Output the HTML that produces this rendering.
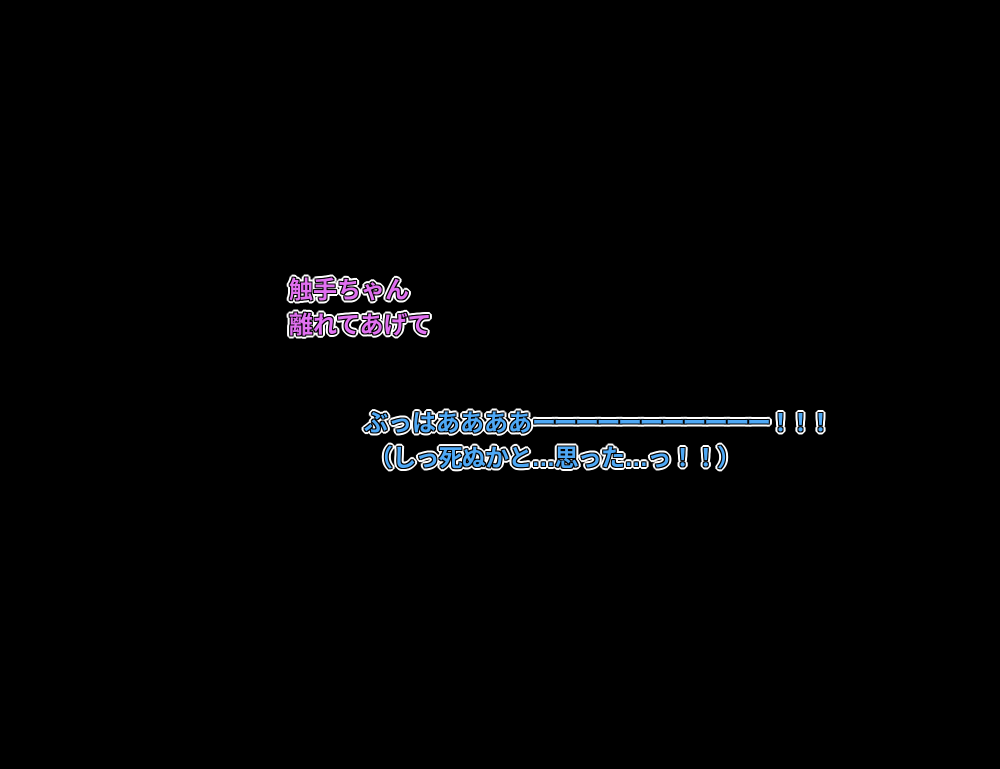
<!DOCTYPE html>
<html><head><meta charset="utf-8"><style>
html,body{margin:0;padding:0;background:#000;width:1000px;height:769px;overflow:hidden}
.t{position:absolute;font-family:"Liberation Sans","Noto Sans CJK JP",sans-serif;font-weight:bold;font-size:24px;line-height:35px;white-space:nowrap;
text-shadow:1px 0 0 #000,-1px 0 0 #000,0 1px 0 #000,0 -1px 0 #000,1px 1px 0 #000,-1px -1px 0 #000,1px -1px 0 #000,-1px 1px 0 #000,
3px 0 0 #fff,-3px 0 0 #fff,0 3px 0 #fff,0 -3px 0 #fff,2px 2px 0 #fff,-2px -2px 0 #fff,2px -2px 0 #fff,-2px 2px 0 #fff,3px 1px 0 #fff,-3px 1px 0 #fff,3px -1px 0 #fff,-3px -1px 0 #fff,1px 3px 0 #fff,1px -3px 0 #fff,-1px 3px 0 #fff,-1px -3px 0 #fff,0 0 3px #fff}
.p{color:#e070f0;left:289px;top:273px}
.b{color:#4ea8f5;left:364px;top:406px}
.d{letter-spacing:-2.5px}
.e{letter-spacing:-4px}
</style></head><body>
<div class="t p">触手ちゃん<br>離れてあげて</div>
<div class="t b">ぶっはああああ<span class="d">ーーーーーーーーーーー</span><span class="e">！！！</span><br><span style="letter-spacing:-0.8px;padding-left:5px">（しっ死ぬかと…思った…っ！！）</span></div>
</body></html>
